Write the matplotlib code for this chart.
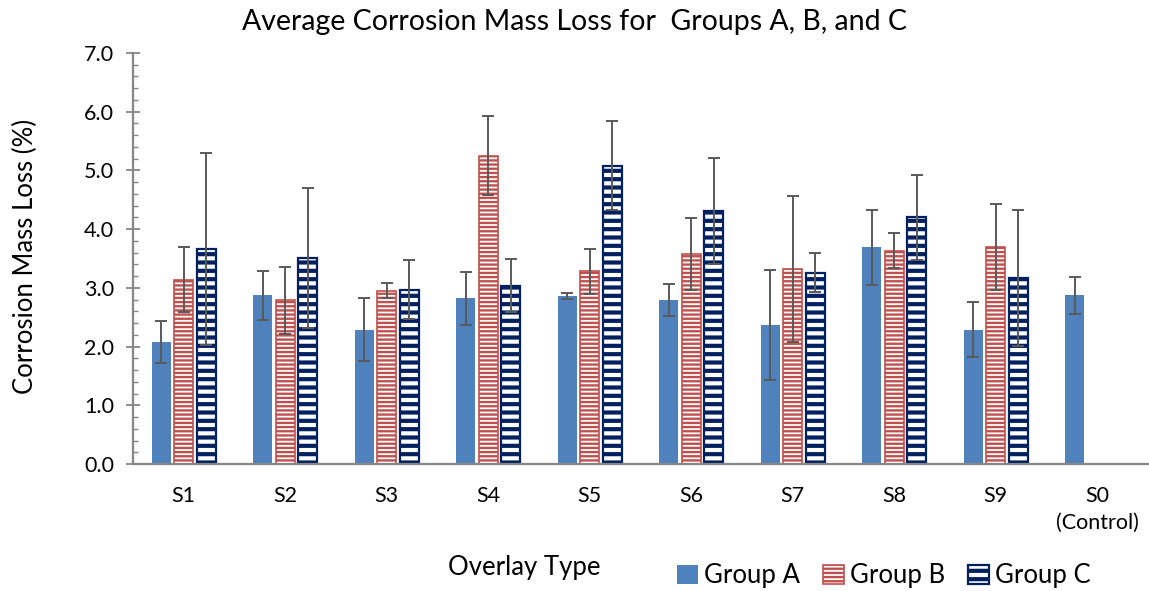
import numpy as np
import matplotlib
matplotlib.use("Agg")
import matplotlib.pyplot as plt
from matplotlib.patches import Patch
from matplotlib.ticker import MultipleLocator, FormatStrFormatter

plt.rcParams['font.family'] = ['Lato', 'DejaVu Sans']

categories = ["S1", "S2", "S3", "S4", "S5", "S6", "S7", "S8", "S9", "S0\n(Control)"]
group_a = [2.08, 2.87, 2.29, 2.82, 2.86, 2.79, 2.37, 3.69, 2.29, 2.87]
group_b = [3.14, 2.79, 2.95, 5.25, 3.28, 3.58, 3.32, 3.63, 3.70, np.nan]
group_c = [3.66, 3.51, 2.97, 3.04, 5.08, 4.31, 3.26, 4.20, 3.17, np.nan]
err_a = [0.36, 0.42, 0.54, 0.45, 0.05, 0.27, 0.94, 0.64, 0.47, 0.31]
err_b = [0.55, 0.57, 0.13, 0.67, 0.39, 0.61, 1.24, 0.30, 0.73, np.nan]
err_c = [1.64, 1.19, 0.50, 0.45, 0.76, 0.90, 0.33, 0.73, 1.16, np.nan]
series_names = ["Group A", "Group B", "Group C"]

col_a = '#4F81BD'
col_b = '#C0504D'
col_c = '#002060'
err_col = '#595959'
axis_col = '#868686'

per_artist = hasattr(Patch, 'set_hatch_linewidth')
lw_b = 1.7 if per_artist else 1.9
lw_c = 3.0 if per_artist else 1.9
plt.rcParams['hatch.linewidth'] = 1.9

fig = plt.figure(figsize=(11.49, 5.91), dpi=100)
ax = fig.add_axes([133/1149, 1-464/591, (1148-133)/1149, (464-53)/591])

x = np.arange(len(categories))
w = 0.187
pitch = 0.222

def set_hlw(patches, lw):
    if per_artist:
        for p in patches:
            p.set_hatch_linewidth(lw)

ba = ax.bar(x - pitch, group_a, w, color=col_a, edgecolor='none', zorder=2)
bb = ax.bar(x, group_b, w, facecolor='white', edgecolor=col_b, hatch='----', linewidth=1.2, zorder=2)
set_hlw(bb, lw_b)
bc = ax.bar(x + pitch, group_c, w, facecolor='white', edgecolor=col_c, hatch='--', linewidth=1.6, zorder=2)
set_hlw(bc, lw_c)

for off, vals, errs in [(-pitch, group_a, err_a), (0, group_b, err_b), (pitch, group_c, err_c)]:
    ax.errorbar(x + off, vals, yerr=errs, fmt='none', ecolor=err_col, elinewidth=1.4,
                capsize=4.5, capthick=1.4, zorder=3)

ax.set_xlim(-0.5, len(categories) - 0.5)
ax.set_ylim(0, 7.0)
ax.yaxis.set_major_locator(MultipleLocator(1.0))
ax.yaxis.set_minor_locator(MultipleLocator(0.2))
ax.yaxis.set_major_formatter(FormatStrFormatter('%.1f'))
ax.set_xticks(x)
ax.set_xticklabels(categories, fontsize=15.5, linespacing=1.4)
ax.tick_params(axis='x', length=0, pad=16)
ax.tick_params(axis='y', which='major', direction='inout', length=9.5, width=1.3,
               color=axis_col, labelsize=15.5, pad=9)
ax.tick_params(axis='y', which='minor', direction='in', length=3.8, width=1.0, color=axis_col)

for s in ['top', 'right']:
    ax.spines[s].set_visible(False)
for s in ['left', 'bottom']:
    ax.spines[s].set_color(axis_col)
    ax.spines[s].set_linewidth(1.6)

fig.text(575/1149, 1-22/591, "Average Corrosion Mass Loss for  Groups A, B, and C",
         ha='center', va='center', fontsize=20.5)
fig.text(25/1149, 1-256/591, "Corrosion Mass Loss (%)", rotation=90,
         ha='center', va='center', fontsize=18.5)
fig.text(524/1149, 1-568/591, "Overlay Type", ha='center', va='center', fontsize=18.5)

handles = [
    Patch(facecolor=col_a, edgecolor='none', label=series_names[0]),
    Patch(facecolor='white', edgecolor=col_b, hatch='----', linewidth=1.2, label=series_names[1]),
    Patch(facecolor='white', edgecolor=col_c, hatch='--', linewidth=1.6, label=series_names[2]),
]
leg = fig.legend(handles=handles, loc='center', bbox_to_anchor=(884/1149, 1-576/591), ncol=3,
                 frameon=False, fontsize=18.5, handlelength=0.8, handleheight=0.8,
                 handletextpad=0.25, columnspacing=0.9)
for h, lw in zip(leg.get_patches(), [1.0, lw_b, lw_c]):
    if per_artist:
        h.set_hatch_linewidth(lw)

fig.savefig("out.png", dpi=100)
